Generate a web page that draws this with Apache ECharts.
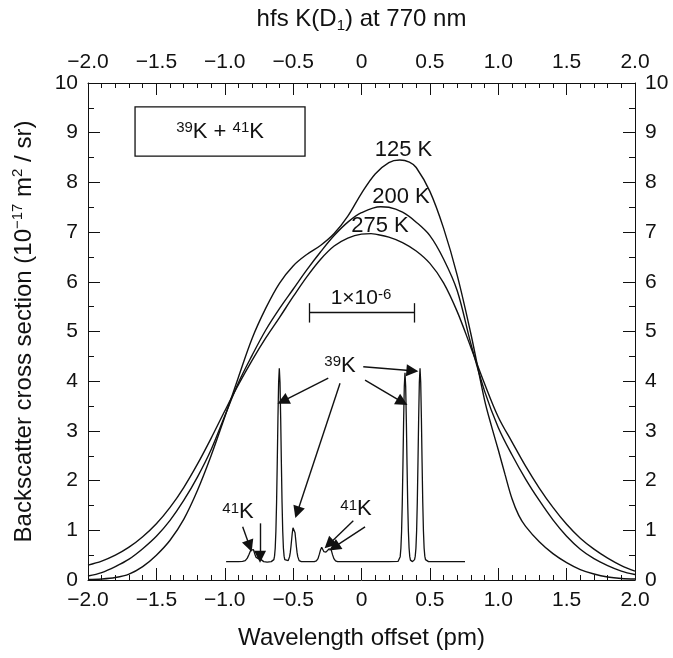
<!DOCTYPE html>
<html><head><meta charset="utf-8">
<script src="https://cdn.jsdelivr.net/npm/echarts@6/dist/echarts.min.js"></script>
<style>html,body{margin:0;padding:0;background:#fff}#c{width:673px;height:658px}</style>
</head><body><div id="c"></div>
<script>
// ---------- data ----------
const xTickLabels = ['\u22122.0','\u22121.5','\u22121.0','\u22120.5','0','0.5','1.0','1.5','2.0'];
const yTickLabels = ['0','1','2','3','4','5','6','7','8','9','10'];

const curve125K = [[-2.0,0.01],[-1.9,0.02],[-1.8,0.05],[-1.7,0.12],[-1.6,0.27],[-1.5,0.50],[-1.4,0.80],[-1.3,1.22],[-1.2,1.80],[-1.1,2.50],[-1.0,3.28],[-0.9,4.08],[-0.8,4.86],[-0.7,5.47],[-0.6,5.97],[-0.5,6.32],[-0.4,6.55],[-0.3,6.73],[-0.2,6.97],[-0.1,7.32],[0.0,7.78],[0.1,8.17],[0.2,8.40],[0.28,8.45],[0.35,8.41],[0.4,8.30],[0.5,7.82],[0.6,7.08],[0.7,6.13],[0.8,4.95],[0.9,3.62],[0.95,3.10],[1.0,2.62],[1.05,2.12],[1.1,1.64],[1.15,1.30],[1.2,1.08],[1.3,0.77],[1.4,0.53],[1.5,0.35],[1.6,0.21],[1.7,0.12],[1.8,0.06],[1.9,0.03],[2.0,0.02]];

const curve200K = [[-2.0,0.08],[-1.9,0.15],[-1.8,0.27],[-1.7,0.42],[-1.6,0.63],[-1.5,0.88],[-1.4,1.20],[-1.3,1.60],[-1.2,2.07],[-1.1,2.62],[-1.0,3.30],[-0.9,3.97],[-0.8,4.52],[-0.7,5.03],[-0.6,5.46],[-0.5,5.85],[-0.4,6.24],[-0.3,6.60],[-0.2,6.93],[-0.1,7.20],[0.0,7.39],[0.14,7.51],[0.2,7.50],[0.3,7.40],[0.4,7.20],[0.5,6.93],[0.6,6.46],[0.7,5.82],[0.8,4.75],[0.9,3.80],[1.0,3.07],[1.1,2.52],[1.2,2.03],[1.3,1.60],[1.4,1.21],[1.5,0.88],[1.6,0.62],[1.7,0.43],[1.8,0.29],[1.9,0.18],[2.0,0.11]];

const curve275K = [[-2.0,0.30],[-1.9,0.38],[-1.8,0.50],[-1.7,0.66],[-1.6,0.87],[-1.5,1.13],[-1.4,1.46],[-1.3,1.86],[-1.2,2.33],[-1.1,2.85],[-1.0,3.40],[-0.9,3.93],[-0.8,4.42],[-0.7,4.87],[-0.6,5.28],[-0.5,5.70],[-0.4,6.10],[-0.3,6.45],[-0.2,6.72],[-0.1,6.88],[0.0,6.96],[0.07,6.97],[0.1,6.96],[0.2,6.90],[0.3,6.79],[0.4,6.62],[0.5,6.37],[0.6,5.98],[0.7,5.40],[0.8,4.68],[0.9,3.95],[1.0,3.28],[1.1,2.78],[1.2,2.29],[1.3,1.85],[1.4,1.46],[1.5,1.12],[1.6,0.84],[1.7,0.62],[1.8,0.44],[1.9,0.29],[2.0,0.18]];

const hfsSpectrum = [[-0.99,0.37],[-0.90,0.37],[-0.87,0.375],[-0.85,0.39],[-0.835,0.44],[-0.822,0.52],[-0.81,0.60],[-0.799,0.64],[-0.79,0.61],[-0.781,0.53],[-0.772,0.46],[-0.763,0.43],[-0.755,0.43],[-0.747,0.435],[-0.739,0.42],[-0.728,0.39],[-0.715,0.37],[-0.69,0.36],[-0.66,0.37],
[-0.651,0.375],[-0.641,0.41],[-0.636,0.48],[-0.631,0.64],[-0.626,0.98],[-0.621,1.56],[-0.616,2.37],[-0.611,3.26],[-0.606,3.98],[-0.601,4.26],[-0.596,3.98],[-0.591,3.26],[-0.586,2.37],[-0.581,1.56],[-0.576,0.98],[-0.571,0.64],[-0.566,0.48],[-0.561,0.41],[-0.551,0.38],
[-0.536,0.39],[-0.526,0.47],[-0.521,0.55],[-0.516,0.67],[-0.511,0.81],[-0.506,0.95],[-0.501,1.05],[-0.496,1.09],[-0.491,1.05],[-0.486,0.95],[-0.481,0.81],[-0.476,0.67],[-0.471,0.55],[-0.466,0.47],[-0.456,0.39],[-0.44,0.37],[-0.40,0.37],[-0.345,0.37],
[-0.33,0.385],[-0.318,0.43],[-0.308,0.52],[-0.299,0.61],[-0.291,0.66],[-0.283,0.63],[-0.275,0.57],[-0.267,0.55],[-0.26,0.56],[-0.248,0.60],[-0.238,0.625],[-0.230,0.64],[-0.222,0.61],[-0.212,0.51],[-0.202,0.43],[-0.19,0.385],[-0.175,0.37],
[-0.10,0.37],[0.10,0.37],[0.20,0.37],[0.268,0.375],[0.278,0.40],[0.283,0.47],[0.288,0.64],[0.293,0.97],[0.298,1.53],[0.303,2.32],[0.308,3.20],[0.313,3.90],[0.318,4.17],[0.323,3.90],[0.328,3.20],[0.333,2.32],[0.338,1.53],[0.343,0.97],[0.348,0.64],[0.353,0.47],[0.358,0.40],[0.365,0.38],[0.373,0.37],[0.381,0.38],
[0.388,0.41],[0.393,0.48],[0.398,0.64],[0.403,0.98],[0.408,1.56],[0.413,2.37],[0.418,3.26],[0.423,3.98],[0.428,4.26],[0.433,3.98],[0.438,3.26],[0.443,2.37],[0.448,1.56],[0.453,0.98],[0.458,0.64],[0.463,0.48],[0.468,0.41],[0.478,0.375],[0.49,0.37],[0.757,0.37]];

// ---------- chart ----------
const FONT = '"Liberation Sans", Arial, Helvetica, sans-serif';
const BLACK = '#111';
const supStyle = {fontSize: 15, fontFamily: FONT, color: BLACK, verticalAlign: 'top', lineHeight: 15};
const subStyle = {fontSize: 15, fontFamily: FONT, color: BLACK, verticalAlign: 'bottom', lineHeight: 15};
const richSet = {sup: supStyle, sub: subStyle};

function xLabel(v){ return xTickLabels[Math.round((v + 2) / 0.5)]; }
function yLabel(v){ return yTickLabels[Math.round(v)]; }

function xAxisDef(pos, name, gap){
  return {
    type: 'value', position: pos, min: -2, max: 2, interval: 0.5,
    name: name, nameLocation: 'middle', nameGap: gap,
    nameTextStyle: {fontSize: 24, fontFamily: FONT, color: BLACK, lineHeight: 28, rich: richSet},
    axisLine: {show: true, onZero: false, lineStyle: {color: BLACK, width: 1}},
    axisTick: {show: true, inside: true, length: 12, lineStyle: {color: BLACK, width: 1}},
    minorTick: {show: true, splitNumber: 5, length: 5, lineStyle: {color: BLACK, width: 1}},
    axisLabel: {show: true, formatter: xLabel, fontSize: 21, fontFamily: FONT, color: BLACK, margin: 10},
    splitLine: {show: false}, minorSplitLine: {show: false}
  };
}
function yAxisDef(pos, name){
  return {
    type: 'value', position: pos, min: 0, max: 10, interval: 1,
    name: name, nameLocation: 'middle', nameGap: 50, nameRotate: 90,
    nameTextStyle: {fontSize: 24, fontFamily: FONT, color: BLACK, lineHeight: 28, rich: richSet},
    axisLine: {show: true, onZero: false, lineStyle: {color: BLACK, width: 1}},
    axisTick: {show: true, inside: true, length: 12, lineStyle: {color: BLACK, width: 1}},
    minorTick: {show: true, splitNumber: 2, length: 6, lineStyle: {color: BLACK, width: 1}},
    axisLabel: {show: true, formatter: yLabel, fontSize: 21, fontFamily: FONT, color: BLACK, margin: 10},
    splitLine: {show: false}, minorSplitLine: {show: false}
  };
}

const lineStyle = {color: BLACK, width: 1.4};
function curveSeries(data){
  return {type: 'line', data: data, xAxisIndex: 0, yAxisIndex: 0, symbol: 'none', smooth: 0.35,
    lineStyle: lineStyle, silent: true, z: 2};
}

const labelBase = {show: true, position: 'inside', fontSize: 22, fontFamily: FONT, color: BLACK, rich: richSet};
function txt(x, y, text, size){
  return {coord: [x, y], label: Object.assign({}, labelBase, {formatter: text, fontSize: size || 22})};
}
function seg(x1, y1, x2, y2){ return [{coord: [x1, y1]}, {coord: [x2, y2]}]; }

const option = {
  animation: false,
  backgroundColor: '#fff',
  grid: {left: 88, right: 38, top: 83, bottom: 78, containLabel: false},
  xAxis: [
    xAxisDef('bottom', 'Wavelength offset (pm)', 44),
    xAxisDef('top', 'hfs K(D{sub|1}) at 770 nm', 50)
  ],
  yAxis: [
    yAxisDef('left', 'Backscatter cross section (10{sup|\u221217} m{sup|2} / sr)'),
    Object.assign(yAxisDef('right', ''), {name: ''})
  ],
  series: [
    curveSeries(curve125K),
    curveSeries(curve200K),
    curveSeries(curve275K),
    {
      type: 'line', data: hfsSpectrum, xAxisIndex: 0, yAxisIndex: 0, symbol: 'none', smooth: false,
      lineStyle: {color: BLACK, width: 1.3}, silent: true, z: 3,
      markPoint: {
        symbol: 'circle', symbolSize: 0, silent: true,
        label: labelBase,
        data: [
          txt(0.307, 8.66, '125 K'),
          txt(0.289, 7.71, '200 K'),
          txt(0.135, 7.13, '275 K'),
          txt(-0.157, 4.31, '{sup|39}K'),
          txt(-0.903, 1.37, '{sup|41}K'),
          txt(-0.04, 1.43, '{sup|41}K'),
          txt(-0.004, 5.67, '1\u00d710{sup|-6}', 21)
        ]
      },
      markLine: {
        silent: true, symbol: ['none', 'triangle'], symbolSize: 12,
        label: {show: false},
        lineStyle: {color: BLACK, width: 1.4, type: 'solid'},
        emphasis: {disabled: true},
        data: [
          seg(-0.243, 4.06, -0.575, 3.60),
          seg(-0.157, 3.96, -0.470, 1.36),
          seg(0.026, 4.02, 0.298, 3.58),
          seg(0.013, 4.29, 0.372, 4.21),
          seg(-0.869, 1.07, -0.818, 0.68),
          seg(-0.742, 1.14, -0.742, 0.47),
          seg(-0.06, 1.19, -0.238, 0.72),
          seg(0.026, 1.07, -0.200, 0.66)
        ]
      }
    },
    {
      type: 'line', data: [], xAxisIndex: 0, yAxisIndex: 0, symbol: 'none', silent: true,
      markLine: {
        silent: true, symbol: 'none', label: {show: false},
        lineStyle: {color: BLACK, width: 1.3, type: 'solid'},
        emphasis: {disabled: true},
        data: [
          seg(-0.382, 5.38, 0.386, 5.38),
          seg(-0.382, 5.18, -0.382, 5.57),
          seg(0.386, 5.18, 0.386, 5.57)
        ]
      },
      markArea: {
        silent: true,
        itemStyle: {color: 'rgba(0,0,0,0)', borderColor: BLACK, borderWidth: 1.3},
        label: Object.assign({}, labelBase, {position: 'inside', formatter: '{sup|39}K + {sup|41}K'}),
        emphasis: {disabled: true},
        data: [[{coord: [-1.656, 9.52]}, {coord: [-0.413, 8.53]}]]
      }
    }
  ]
};

const chart = echarts.init(document.getElementById('c'), null, {renderer: 'canvas'});
chart.setOption(option);
</script>
</body></html>
